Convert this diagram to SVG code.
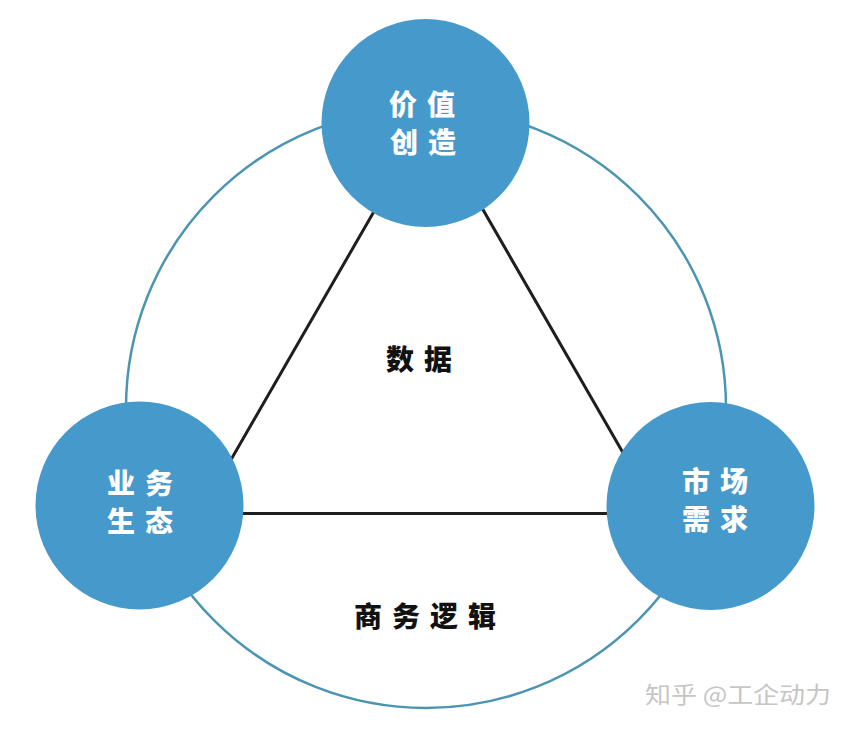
<svg xmlns="http://www.w3.org/2000/svg" width="861" height="739" viewBox="0 0 861 739">
<style>
.node{fill:#4699cb}
.nt{font-family:"Noto Sans CJK SC","Noto Sans",sans-serif;font-weight:900;font-size:28px;fill:#ffffff;letter-spacing:10px}
.lbl{font-family:"Noto Sans CJK SC","Noto Sans",sans-serif;font-weight:900;font-size:28px;fill:#111111;letter-spacing:10px}
.ring{fill:none;stroke:#4b95b3;stroke-width:2.5}
.edge{fill:none;stroke:#1e1e1e;stroke-width:3}
</style>
<rect width="861" height="739" fill="#ffffff"/>
<g id="connectors">
<circle class="ring" cx="426" cy="408" r="300"/>
<polygon class="edge" points="429,116 200,513.5 658,513.5"/>
</g>
<g id="label-data">
<text class="lbl" x="386" y="357.5" dominant-baseline="central">数据</text>
</g>
<g id="label-logic">
<text class="lbl" x="354" y="615" dominant-baseline="central">商务逻辑</text>
</g>
<g id="node-value">
<circle class="node" cx="425.5" cy="123" r="104"/>
<text class="nt" dominant-baseline="central"><tspan x="389" y="103">价值</tspan><tspan x="390" y="140.5">创造</tspan></text>
</g>
<g id="node-business">
<circle class="node" cx="139.5" cy="505.5" r="104"/>
<text class="nt" dominant-baseline="central"><tspan x="107" y="482">业务</tspan><tspan x="107" y="519.5">生态</tspan></text>
</g>
<g id="node-market">
<circle class="node" cx="710.5" cy="506" r="104"/>
<text class="nt" dominant-baseline="central"><tspan x="682" y="480">市场</tspan><tspan x="682" y="517.5">需求</tspan></text>
</g>
<g id="watermark">
<text x="645" y="693" dominant-baseline="central" font-family="Noto Sans CJK SC, Noto Sans, sans-serif" font-size="23" fill="#c6c6c6" textLength="186" lengthAdjust="spacingAndGlyphs">知乎 @工企动力</text>
</g>
</svg>
